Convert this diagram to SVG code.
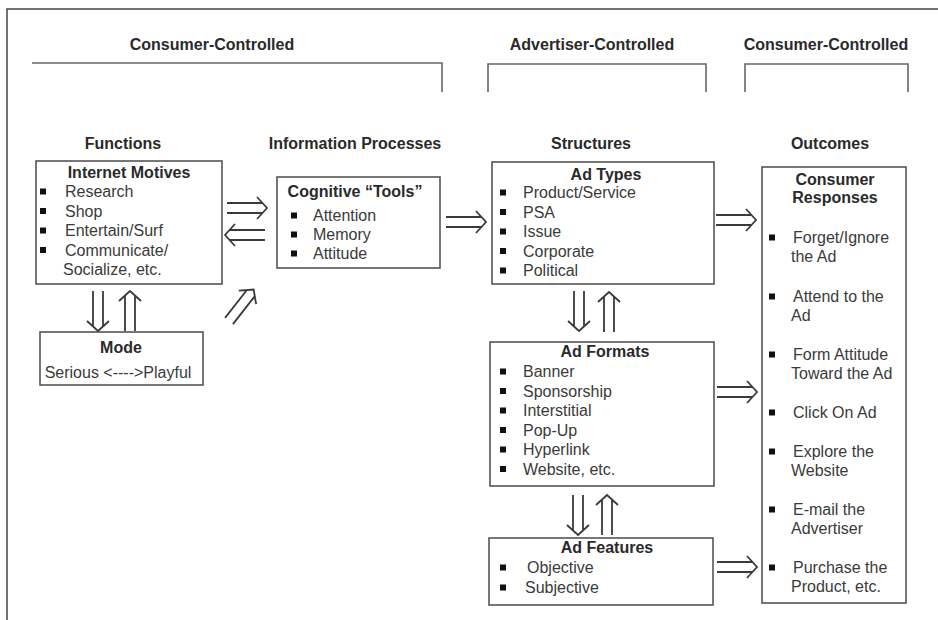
<svg xmlns="http://www.w3.org/2000/svg" width="938" height="620" viewBox="0 0 938 620">
<style>
text{font-family:"Liberation Sans",Arial,Helvetica,sans-serif;font-size:16px;fill:#3a3a3a}
.h{font-weight:bold;fill:#2a2a2a;text-anchor:middle}
.box{fill:#fff;stroke:#555;stroke-width:1.6}
.br{fill:none;stroke:#666;stroke-width:1.6}
.frame{fill:none;stroke:#444;stroke-width:1.5}
.b{fill:#111}
.ar{fill:none;stroke:#3a3a3a;stroke-width:1.8;stroke-linejoin:miter}
</style>
<defs>
<path id="arr" class="ar" d="M0,-5 H35.5 M0,5 H35.5 M30,-11 L40,0 L30,11"/>
<rect id="bul" class="b" x="-3" y="-3" width="6" height="6"/>
</defs>
<rect width="938" height="620" fill="#fff"/>
<path class="frame" d="M7,620 V9 H938"/>

<g id="brackets">
<path class="br" d="M32,63 H442 V92"/>
<path class="br" d="M488,92 V64 H706 V92"/>
<path class="br" d="M745,92 V64 H908 V92"/>
<text class="h" x="212" y="50">Consumer-Controlled</text>
<text class="h" x="592" y="50">Advertiser-Controlled</text>
<text class="h" x="826" y="50">Consumer-Controlled</text>
</g>

<g id="headers">
<text class="h" x="123" y="149">Functions</text>
<text class="h" x="355" y="149">Information Processes</text>
<text class="h" x="591" y="149">Structures</text>
<text class="h" x="830" y="149">Outcomes</text>
</g>

<g id="internet-motives">
<rect class="box" x="36" y="161" width="186" height="123"/>
<text class="h" x="129" y="178">Internet Motives</text>
<use href="#bul" x="43" y="191.5"/><text x="65" y="197">Research</text>
<use href="#bul" x="43" y="211"/><text x="65" y="216.5">Shop</text>
<use href="#bul" x="43" y="230.5"/><text x="65" y="236">Entertain/Surf</text>
<use href="#bul" x="43" y="250"/><text x="65" y="255.5">Communicate/</text>
<text x="63" y="275">Socialize, etc.</text>
</g>

<g id="mode">
<rect class="box" x="40" y="332" width="163" height="53"/>
<text class="h" x="121" y="353">Mode</text>
<text x="118" y="378" text-anchor="middle">Serious &lt;----&gt;Playful</text>
</g>

<g id="cognitive-tools">
<rect class="box" x="277" y="177" width="163" height="91"/>
<text class="h" x="355" y="197">Cognitive “Tools”</text>
<use href="#bul" x="294" y="215.5"/><text x="313" y="221">Attention</text>
<use href="#bul" x="294" y="234.5"/><text x="313" y="240">Memory</text>
<use href="#bul" x="294" y="253.5"/><text x="313" y="259">Attitude</text>
</g>

<g id="ad-types">
<rect class="box" x="492" y="162" width="222" height="122"/>
<text class="h" x="606" y="180">Ad Types</text>
<use href="#bul" x="503" y="192.5"/><text x="523" y="198">Product/Service</text>
<use href="#bul" x="503" y="212"/><text x="523" y="217.5">PSA</text>
<use href="#bul" x="503" y="231.5"/><text x="523" y="237">Issue</text>
<use href="#bul" x="503" y="251"/><text x="523" y="256.5">Corporate</text>
<use href="#bul" x="503" y="270.5"/><text x="523" y="276">Political</text>
</g>

<g id="ad-formats">
<rect class="box" x="490" y="342" width="224" height="144"/>
<text class="h" x="605" y="357">Ad Formats</text>
<use href="#bul" x="503" y="371.5"/><text x="523" y="377">Banner</text>
<use href="#bul" x="503" y="391"/><text x="523" y="396.5">Sponsorship</text>
<use href="#bul" x="503" y="410.5"/><text x="523" y="416">Interstitial</text>
<use href="#bul" x="503" y="430"/><text x="523" y="435.5">Pop-Up</text>
<use href="#bul" x="503" y="449.5"/><text x="523" y="455">Hyperlink</text>
<use href="#bul" x="503" y="469"/><text x="523" y="474.5">Website, etc.</text>
</g>

<g id="ad-features">
<rect class="box" x="489" y="538" width="224" height="67"/>
<text class="h" x="607" y="553">Ad Features</text>
<use href="#bul" x="503" y="567.5"/><text x="527" y="573">Objective</text>
<use href="#bul" x="503" y="587.5"/><text x="525" y="593">Subjective</text>
</g>

<g id="consumer-responses">
<rect class="box" x="762" y="167" width="144" height="436"/>
<text class="h" x="835" y="185">Consumer</text>
<text class="h" x="835" y="203">Responses</text>
<use href="#bul" x="772" y="237.5"/><text x="793" y="243">Forget/Ignore</text>
<text x="791" y="262">the Ad</text>
<use href="#bul" x="772" y="296.5"/><text x="793" y="302">Attend to the</text>
<text x="791" y="321">Ad</text>
<use href="#bul" x="772" y="354.5"/><text x="793" y="360">Form Attitude</text>
<text x="791" y="379">Toward the Ad</text>
<use href="#bul" x="772" y="412.5"/><text x="793" y="418">Click On Ad</text>
<use href="#bul" x="772" y="451.5"/><text x="793" y="457">Explore the</text>
<text x="791" y="476">Website</text>
<use href="#bul" x="772" y="509.5"/><text x="793" y="515">E-mail the</text>
<text x="791" y="534">Advertiser</text>
<use href="#bul" x="772" y="567.5"/><text x="793" y="573">Purchase the</text>
<text x="791" y="592">Product, etc.</text>
</g>

<g id="connectors">
<use href="#arr" transform="translate(227,208)"/>
<use href="#arr" transform="translate(265,235) rotate(180)"/>
<use href="#arr" transform="translate(229,321) rotate(-52)"/>
<use href="#arr" transform="translate(98,291) rotate(90)"/>
<use href="#arr" transform="translate(130,331) rotate(-90)"/>
<use href="#arr" transform="translate(446,222)"/>
<use href="#arr" transform="translate(716,220)"/>
<use href="#arr" transform="translate(579,291) rotate(90)"/>
<use href="#arr" transform="translate(609,332) rotate(-90)"/>
<use href="#arr" transform="translate(717,392)"/>
<use href="#arr" transform="translate(578,495) rotate(90)"/>
<use href="#arr" transform="translate(607,535) rotate(-90)"/>
<use href="#arr" transform="translate(717,567)"/>
</g>
</svg>
